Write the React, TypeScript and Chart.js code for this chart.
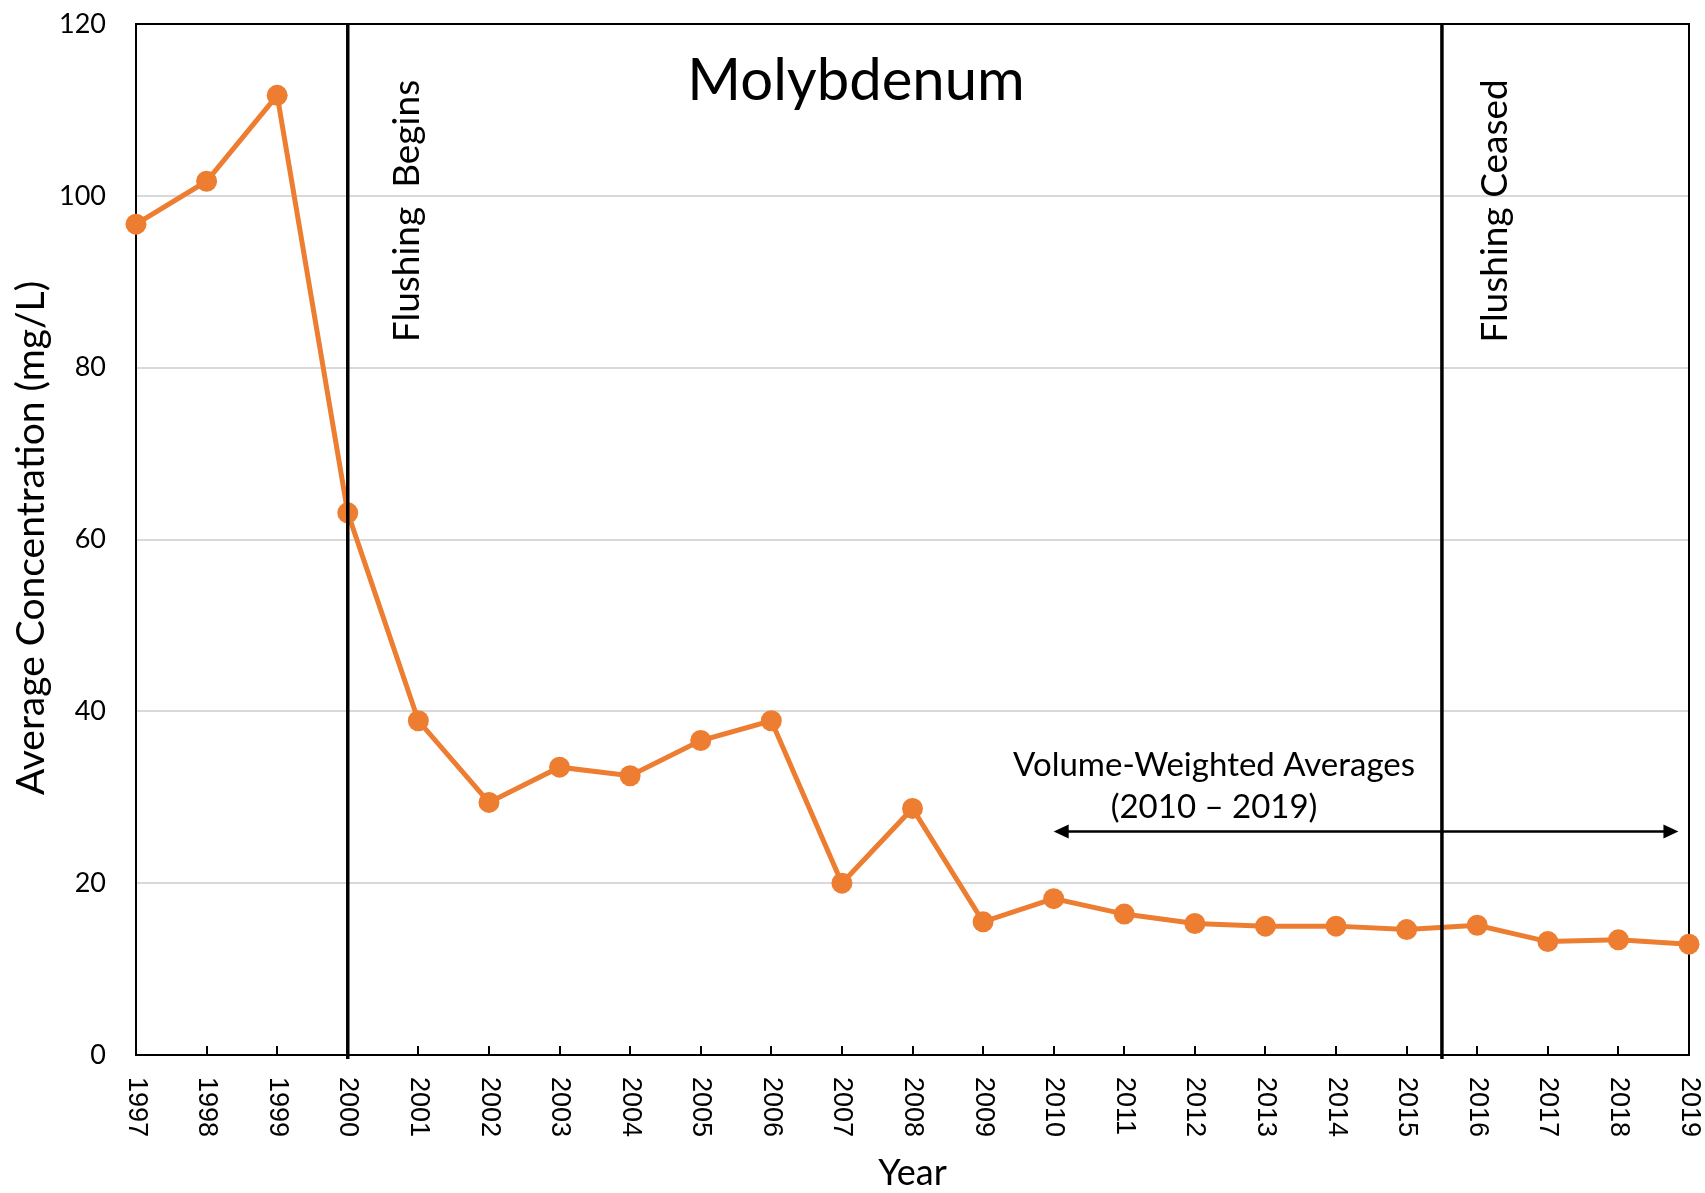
import React, { useEffect, useRef } from "react";
import { Chart, registerables } from "chart.js";

Chart.register(...registerables);

const years = [1997, 1998, 1999, 2000, 2001, 2002, 2003, 2004, 2005, 2006, 2007, 2008, 2009, 2010, 2011, 2012, 2013, 2014, 2015, 2016, 2017, 2018, 2019];
const concentrations = [96.7, 101.7, 111.7, 63.1, 38.9, 29.4, 33.5, 32.5, 36.6, 38.9, 20.0, 28.7, 15.5, 18.2, 16.4, 15.3, 15.0, 15.0, 14.6, 15.1, 13.2, 13.4, 12.9];
const yTickValues = [0, 20, 40, 60, 80, 100, 120];
const markerYears = [2000, 2015.5];
const markerLabels = ["Flushing  Begins", "Flushing Ceased"];
const arrowRange = [2010, 2018.85];
const arrowLevel = 26;
const annotationLines = ["Volume-Weighted Averages", "(2010 \u2013 2019)"];
const chartTitle = "Molybdenum";
const xTitle = "Year";
const yTitle = "Average Concentration (mg/L)";

const ORANGE = "#ED7D31";
const FONT = "Lato";

const overlayPlugin = {
  id: "overlay",
  beforeDatasetsDraw(chart: any) {
    const { ctx, chartArea: a, scales } = chart;
    const x = scales.x;
    ctx.save();
    ctx.strokeStyle = "#000";
    ctx.lineWidth = 2;
    ctx.strokeRect(a.left, a.top, a.right - a.left, a.bottom - a.top);
    ctx.beginPath();
    for (const yr of years) {
      const px = Math.round(x.getPixelForValue(yr));
      ctx.moveTo(px, a.bottom);
      ctx.lineTo(px, a.bottom - 9);
    }
    ctx.stroke();
    ctx.restore();
  },
  afterDatasetsDraw(chart: any) {
    const { ctx, chartArea: a, scales } = chart;
    const x = scales.x;
    const y = scales.y;
    ctx.save();
    // vertical marker lines
    ctx.strokeStyle = "#000";
    ctx.lineWidth = 3.5;
    markerYears.forEach((yr, i) => {
      const px = x.getPixelForValue(yr);
      ctx.beginPath();
      ctx.moveTo(px, a.top);
      ctx.lineTo(px, a.bottom + 4);
      ctx.stroke();
      ctx.save();
      ctx.fillStyle = "#000";
      ctx.font = `37px ${FONT}`;
      ctx.textAlign = "center";
      ctx.textBaseline = "alphabetic";
      ctx.translate(px + (i === 0 ? 71 : 65), 211);
      ctx.rotate(-Math.PI / 2);
      ctx.fillText(markerLabels[i], 0, 0);
      ctx.restore();
    });

    // double-headed arrow
    const x1 = x.getPixelForValue(arrowRange[0]);
    const x2 = x.getPixelForValue(arrowRange[1]);
    const ay = y.getPixelForValue(arrowLevel);
    const head = 15;
    const half = 7;
    ctx.lineWidth = 2.5;
    ctx.beginPath();
    ctx.moveTo(x1 + head - 2, ay);
    ctx.lineTo(x2 - head + 2, ay);
    ctx.stroke();
    ctx.fillStyle = "#000";
    ctx.beginPath();
    ctx.moveTo(x1, ay);
    ctx.lineTo(x1 + head, ay - half);
    ctx.lineTo(x1 + head, ay + half);
    ctx.closePath();
    ctx.fill();
    ctx.beginPath();
    ctx.moveTo(x2, ay);
    ctx.lineTo(x2 - head, ay - half);
    ctx.lineTo(x2 - head, ay + half);
    ctx.closePath();
    ctx.fill();

    // annotation text
    ctx.font = `33px ${FONT}`;
    ctx.textAlign = "center";
    ctx.textBaseline = "alphabetic";
    const cx = (x1 + x2) / 2 - 152;
    ctx.fillText(annotationLines[0], cx, ay - 56);
    ctx.fillText(annotationLines[1], cx, ay - 14);

    // chart title
    ctx.font = `58px ${FONT}`;
    ctx.fillText(chartTitle, 856, 100);

    // x tick labels rotated clockwise
    ctx.font = `27px "Liberation Sans"`;
    ctx.textAlign = "left";
    ctx.textBaseline = "middle";
    for (const yr of years) {
      const px = x.getPixelForValue(yr);
      ctx.save();
      ctx.translate(px, a.bottom + 22);
      ctx.rotate(Math.PI / 2);
      ctx.fillText(String(yr), 0, 0);
      ctx.restore();
    }

    // axis titles
    ctx.textAlign = "center";
    ctx.textBaseline = "alphabetic";
    ctx.font = `36px ${FONT}`;
    ctx.fillText(xTitle, (a.left + a.right) / 2, 1185);
    ctx.font = `39px ${FONT}`;
    ctx.save();
    ctx.translate(44, 538);
    ctx.rotate(-Math.PI / 2);
    ctx.fillText(yTitle, 0, 0);
    ctx.restore();

    ctx.restore();
  },
};

export default function App() {
  const canvasRef = useRef<HTMLCanvasElement | null>(null);

  useEffect(() => {
    let chart: Chart | null = null;
    let cancelled = false;
    const make = () => {
      if (cancelled || !canvasRef.current) return;
      chart = new Chart(canvasRef.current, {
        type: "line",
        data: {
          datasets: [
            {
              data: years.map((yr, i) => ({ x: yr, y: concentrations[i] })),
              borderColor: ORANGE,
              backgroundColor: ORANGE,
              borderWidth: 5,
              pointRadius: 10.5,
              pointBorderWidth: 0,
              pointBackgroundColor: ORANGE,
              tension: 0,
              clip: false as any,
            },
          ],
        },
        options: {
          responsive: false,
          animation: false,
          devicePixelRatio: 1,
          layout: { padding: { left: 0, right: 16, top: 24, bottom: 0 } },
          plugins: {
            legend: { display: false },
            tooltip: { enabled: false },
            title: { display: false },
          },
          scales: {
            x: {
              type: "linear",
              min: years[0],
              max: years[years.length - 1],
              grid: { display: false },
              border: { display: false },
              ticks: { display: false },
              afterFit: (s: any) => {
                s.height = 1193 - 1055;
                s.paddingLeft = 0;
                s.paddingRight = 0;
              },
            },
            y: {
              type: "linear",
              min: yTickValues[0],
              max: yTickValues[yTickValues.length - 1],
              afterBuildTicks: (s: any) => {
                s.ticks = yTickValues.map((v) => ({ value: v }));
              },
              grid: { color: "#d9d9d9", lineWidth: 2, drawTicks: false },
              border: { display: false },
              ticks: {
                color: "#000",
                padding: 30,
                font: { family: FONT, size: 27 },
              },
              afterFit: (s: any) => {
                s.width = 136;
                s.paddingTop = 0;
                s.paddingBottom = 0;
              },
            },
          },
        },
        plugins: [overlayPlugin],
      });
    };
    const fonts = (document as any).fonts;
    if (fonts && fonts.load) {
      Promise.all([
        fonts.load(`27px ${FONT}`),
        fonts.load(`27px "Liberation Sans"`),
      ])
        .catch(() => null)
        .then(make);
    } else {
      make();
    }
    return () => {
      cancelled = true;
      if (chart) chart.destroy();
    };
  }, []);

  return (
    <div style={{ position: "absolute", left: 0, top: 0, width: 1705, height: 1193, background: "#fff" }}>
      <canvas ref={canvasRef} width={1705} height={1193} style={{ display: "block" }} />
    </div>
  );
}
